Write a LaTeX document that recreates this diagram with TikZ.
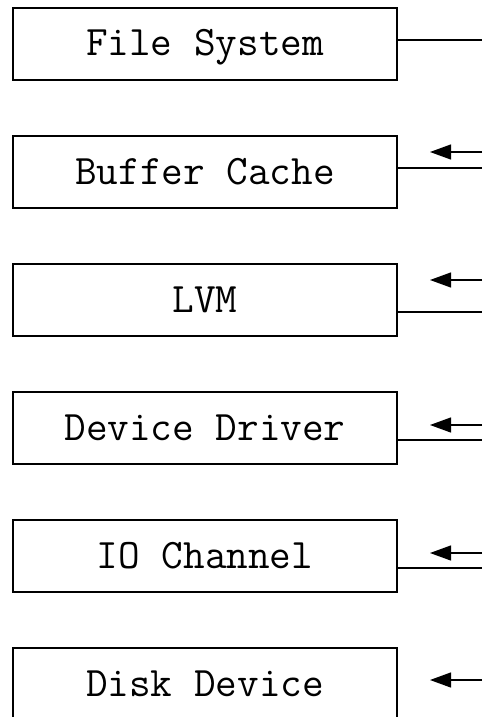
\documentclass[tikz,border=0pt]{standalone}
\usetikzlibrary{arrows.meta}
\begin{document}
\begin{tikzpicture}[x=1pt,y=-1pt,
  layer/.style={draw, line width=1.4pt, rectangle, minimum width=384pt, minimum height=72pt,
    inner sep=0pt, text height=34pt, text depth=10pt,
    font=\ttfamily\fontsize{42}{48}\selectfont},
  link/.style={line width=1.2pt},
  back/.style={line width=1.2pt, -{Triangle[length=21pt,width=15pt]}}]
\useasboundingbox (0,0) rectangle (482,717);
\clip (0,0) rectangle (482,717);
\node[layer] (b1) at (205,44) {File System};
\node[layer] (b2) at (205,172) {Buffer Cache};
\node[layer] (b3) at (205,300) {LVM};
\node[layer] (b4) at (205,428) {Device Driver};
\node[layer] (b5) at (205,556) {IO Channel};
\node[layer] (b6) at (205,684) {Disk Device};
% outgoing lines
\coordinate (o1) at (482,40);
\coordinate (o2) at (482,168);
\coordinate (o3) at (482,312);
\coordinate (o4) at (482,440);
\coordinate (o5) at (482,568);
\draw[link] (b1.east |- o1) -- (o1);
\draw[link] (b2.east |- o2) -- (o2);
\draw[link] (b3.east |- o3) -- (o3);
\draw[link] (b4.east |- o4) -- (o4);
\draw[link] (b5.east |- o5) -- (o5);
% incoming arrows
\coordinate (i2) at (482,152);
\coordinate (i3) at (482,280);
\coordinate (i4) at (482,425);
\coordinate (i5) at (482,553);
\coordinate (i6) at (482,680);
\coordinate (t2) at (430,152);
\coordinate (t3) at (430,280);
\coordinate (t4) at (430,425);
\coordinate (t5) at (430,553);
\coordinate (t6) at (430,680);
\draw[back] (i2) -- (t2);
\draw[back] (i3) -- (t3);
\draw[back] (i4) -- (t4);
\draw[back] (i5) -- (t5);
\draw[back] (i6) -- (t6);
\end{tikzpicture}
\end{document}
